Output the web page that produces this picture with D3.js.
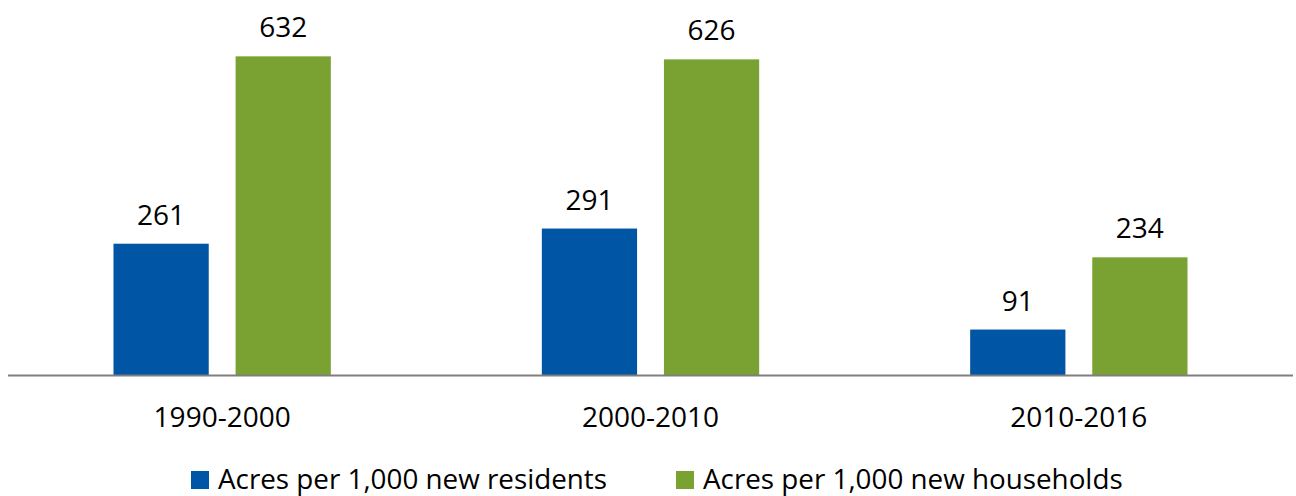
<!DOCTYPE html>
<html>
<head>
<meta charset="utf-8">
<script src="https://cdn.jsdelivr.net/npm/d3@7"></script>
<style>
  body { margin: 0; background: #fff; }
  text { font-family: "Open Sans", sans-serif; fill: #000; }
</style>
</head>
<body>
<div id="chart"></div>
<script>
var periods = ["1990-2000", "2000-2010", "2010-2016"];
var seriesNames = ["Acres per 1,000 new residents", "Acres per 1,000 new households"];
var residents = [261, 291, 91];
var households = [632, 626, 234];
var colors = ["#0055a5", "#79a232"];

var width = 1296, height = 496;
var svg = d3.select("#chart").append("svg").attr("width", width).attr("height", height);

var x = d3.scaleBand().domain(periods).range([8, 1293]).paddingInner(0).paddingOuter(0);
var inner = d3.scaleBand().domain([0, 1]).range([105.5, x.bandwidth() - 105.5]).paddingInner(0.22);
var y = d3.scaleLinear().domain([0, 700]).range([375.5, 22]);

var rows = periods.map(function(p, i){
    return {period: p, values: [residents[i], households[i]]};
});

var groups = svg.selectAll(".grp").data(rows).enter().append("g")
    .attr("class", "grp")
    .attr("transform", function(d){ return "translate(" + x(d.period) + ",0)"; });

groups.selectAll("rect").data(function(d){ return d.values; }).enter().append("rect")
    .attr("x", function(d, i){ return inner(i); })
    .attr("width", inner.bandwidth())
    .attr("y", function(d){ return y(d); })
    .attr("height", function(d){ return y(0) - y(d); })
    .attr("fill", function(d, i){ return colors[i]; });

groups.selectAll(".val").data(function(d){ return d.values; }).enter().append("text")
    .attr("class", "val")
    .attr("x", function(d, i){ return inner(i) + inner.bandwidth() / 2; })
    .attr("y", function(d){ return y(d) - 19; })
    .attr("text-anchor", "middle").attr("font-size", 28)
    .text(function(d){ return d; });

// baseline
svg.append("line").attr("x1", 8).attr("x2", 1293).attr("y1", y(0)).attr("y2", y(0))
    .attr("stroke", "#7f7f7f").attr("stroke-width", 2);

// category labels
svg.selectAll(".cat").data(periods).enter().append("text")
    .attr("class", "cat")
    .attr("x", function(d){ return x(d) + x.bandwidth() / 2; })
    .attr("y", 427)
    .attr("text-anchor", "middle").attr("font-size", 28)
    .text(function(d){ return d; });

// legend
var legX = [191, 676];
var leg = svg.selectAll(".leg").data(seriesNames).enter().append("g")
    .attr("class", "leg")
    .attr("transform", function(d, i){ return "translate(" + legX[i] + ",0)"; });
leg.append("rect").attr("x", 0).attr("y", 471).attr("width", 18).attr("height", 18)
    .attr("fill", function(d, i){ return colors[i]; });
leg.append("text").attr("x", 27).attr("y", 489).attr("font-size", 27.8)
    .text(function(d){ return d; });
</script>
</body>
</html>
